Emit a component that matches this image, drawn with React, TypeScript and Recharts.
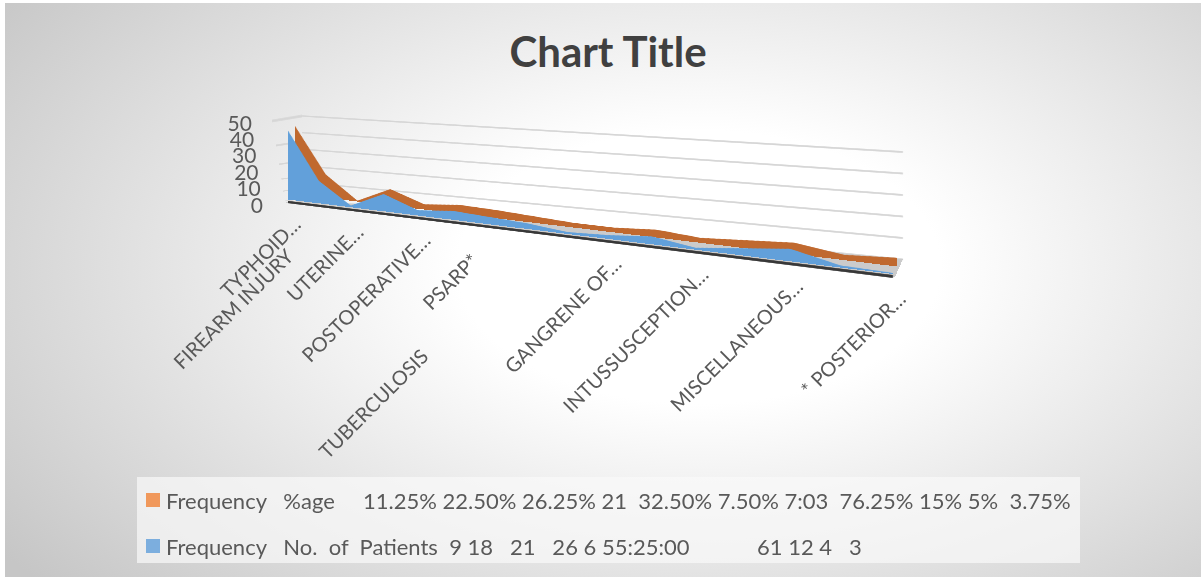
import { AreaChart, Area, XAxis, YAxis, CartesianGrid, Legend } from 'recharts'

// categories along the floor (blank ones carry no label in the sheet)
const CAUSES = [
  'TYPHOID…', 'FIREARM INJURY', 'UTERINE…', 'TUBERCULOSIS', 'POSTOPERATIVE…', 'PSARP*',
  '', '', '', 'GANGRENE OF…', '', 'INTUSSUSCEPTION…', '', 'MISCELLANEOUS…', '', '* POSTERIOR…',
]
const PATIENTS = [42, 13.5, 1, 10, 3, 5, 4, 3, 1, 2, 4, 1, 3.5, 6, 1, 0.5]
const PERCENT = [41.5, 14, 0.5, 9.5, 3, 5, 4.5, 3.5, 2.5, 2.5, 4, 2.5, 4, 5.5, 2.5, 4]
const Y_TICKS = [0, 10, 20, 30, 40, 50]

const NAME_PCT = 'Frequency   %age     11.25% 22.50% 26.25% 21  32.50% 7.50% 7:03  76.25% 15% 5%  3.75%'
const NAME_NUM = 'Frequency   No.  of  Patients  9 18   21   26 6 55:25:00            61 12 4   3'

const rows = CAUSES.map((cause, i) => ({ cause, pct: PERCENT[i], num: PATIENTS[i] }))

const W = 1204
const H = 577
// every chart uses the same flat plot box, each plane then gets warped onto its quad
const FLAT = { left: 100, top: 100, width: 600, height: 200 }
const MARGIN = { top: FLAT.top, left: FLAT.left, right: W - FLAT.left - FLAT.width, bottom: H - FLAT.top - FLAT.height }

type Pt = [number, number]
type Quad = [Pt, Pt, Pt, Pt] // top-left, top-right, bottom-right, bottom-left

const BLUE_PLANE: Quad = [[288, 117.5], [893, 165], [893, 274], [288, 199.5]]
const FRONT_EDGE: Quad = [[288, 120], [893, 167.5], [893, 276.5], [288, 202]]
const ORANGE_PLANE: Quad = [[295, 112], [897, 157.5], [897, 266.5], [295, 194]]
const BACK_WALL: Quad = [[302, 116], [903, 152], [903, 259.5], [302, 199]]
const SIDE_WALL: Quad = [[272, 121], [302, 116], [302, 199], [285, 201]]
const FLOOR: Quad = [[302, 199], [903, 259.5], [895, 277.5], [284, 203]]

const FONT = 'Lato, Calibri, "Open Sans", sans-serif'
const TEXT = '#595959'

function homography(q: Quad) {
  const [[x0, y0], [x1, y1], [x2, y2], [x3, y3]] = q
  const dx1 = x1 - x2, dx2 = x3 - x2, dx3 = x0 - x1 + x2 - x3
  const dy1 = y1 - y2, dy2 = y3 - y2, dy3 = y0 - y1 + y2 - y3
  const det = dx1 * dy2 - dx2 * dy1
  const g = (dx3 * dy2 - dx2 * dy3) / det
  const h = (dx1 * dy3 - dx3 * dy1) / det
  const a = x1 - x0 + g * x1, b = x3 - x0 + h * x3
  const d = y1 - y0 + g * y1, e = y3 - y0 + h * y3
  const { left: L, top: T, width: FW, height: FH } = FLAT
  return {
    m11: a / FW, m12: b / FH, m14: x0 - (a * L) / FW - (b * T) / FH,
    m21: d / FW, m22: e / FH, m24: y0 - (d * L) / FW - (e * T) / FH,
    m41: g / FW, m42: h / FH, m44: 1 - (g * L) / FW - (h * T) / FH,
  }
}

function project(q: Quad, x: number, y: number): Pt {
  const m = homography(q)
  const w = m.m41 * x + m.m42 * y + m.m44
  return [(m.m11 * x + m.m12 * y + m.m14) / w, (m.m21 * x + m.m22 * y + m.m24) / w]
}

function warp(q: Quad) {
  const m = homography(q)
  const f = (v: number) => v.toFixed(9)
  return `matrix3d(${f(m.m11)},${f(m.m21)},0,${f(m.m41)},${f(m.m12)},${f(m.m22)},0,${f(m.m42)},0,0,1,0,${f(m.m14)},${f(m.m24)},0,${f(m.m44)})`
}

function Plane({ quad, children }: { quad: Quad; children: React.ReactNode }) {
  return (
    <div style={{ position: 'absolute', left: 0, top: 0, width: W, height: H, transformOrigin: '0 0', transform: warp(quad) }}>
      {children}
    </div>
  )
}

// excel staggered a few of the long labels further down
const STAGGER: Record<number, Pt> = { 1: [-38, 28], 3: [32, 120], 5: [13, 16] }

function CauseTick({ x, index, payload }: any) {
  const [px, py] = project(FRONT_EDGE, x, FLAT.top + FLAT.height)
  const [sx, sy] = STAGGER[index] ?? [0, 0]
  return (
    <text
      transform={`translate(${px + 14 + sx},${py + 24 + sy}) rotate(-45)`}
      textAnchor="end"
      fontSize={20}
      fontFamily={FONT}
      fill={TEXT}
    >
      {payload.value}
    </text>
  )
}

// value labels follow the slanted front edge of the side wall
function ValueTick({ y, payload }: any) {
  const [px, py] = project(FRONT_EDGE, FLAT.left, y)
  const [, floorY] = project(FRONT_EDGE, FLAT.left, FLAT.top + FLAT.height)
  return (
    <text
      x={px - 25 - (floorY - py) * 0.135}
      y={py + 2}
      textAnchor="end"
      dominantBaseline="central"
      fontSize={21}
      fontFamily={FONT}
      fill={TEXT}
    >
      {payload.value}
    </text>
  )
}

function LegendBox({ payload }: any) {
  return (
    <div style={{ width: 943, height: 86, background: 'rgba(250,250,250,0.7)', fontFamily: FONT, fontSize: 22, color: TEXT, paddingLeft: 9, boxSizing: 'border-box' }}>
      {(payload ?? []).map((item: any) => (
        <div key={item.dataKey} style={{ height: 46, display: 'flex', alignItems: 'center', whiteSpace: 'pre' }}>
          <span style={{ width: 14, height: 14, background: item.color, marginRight: 6, flex: 'none' }} />
          <span>{item.value}</span>
        </div>
      ))}
    </div>
  )
}

// the walls get squashed to about 0.45 of the flat height, so strokes are drawn thick
function WallGrid() {
  return (
    <AreaChart width={W} height={H} data={rows} margin={MARGIN}>
      <CartesianGrid vertical={false} stroke="#d6d6d6" strokeWidth={3.5} />
      <XAxis dataKey="cause" hide />
      <YAxis hide domain={[0, 50]} ticks={Y_TICKS} />
      <Area dataKey="num" stroke="none" fill="none" isAnimationActive={false} />
    </AreaChart>
  )
}

export default function App() {
  return (
    <div style={{ position: 'absolute', left: 0, top: 0, width: W, height: H, background: '#fff', overflow: 'hidden' }}>
      <div
        style={{
          position: 'absolute', left: 5, top: 3, right: 3, bottom: 0,
          background: 'radial-gradient(ellipse 72% 85% at 58% 46%, #ffffff 0%, #ffffff 28%, #c6c6c6 100%)',
        }}
      />
      <div style={{ position: 'absolute', left: 6, top: 30, width: W, textAlign: 'center', fontFamily: FONT, fontWeight: 700, fontSize: 42, lineHeight: '42px', color: '#404040' }}>
        Chart Title
      </div>

      <Plane quad={BACK_WALL}>
        <WallGrid />
      </Plane>

      <Plane quad={SIDE_WALL}>
        <WallGrid />
      </Plane>

      <Plane quad={FLOOR}>
        <AreaChart width={W} height={H} data={rows} margin={MARGIN}>
          <CartesianGrid vertical={false} horizontal={false} fill="#cbcbcb" />
          <XAxis dataKey="cause" hide />
          <YAxis hide domain={[0, 50]} />
          <Area dataKey="num" stroke="none" fill="none" isAnimationActive={false} />
        </AreaChart>
      </Plane>

      <Plane quad={ORANGE_PLANE}>
        <AreaChart width={W} height={H} data={rows} margin={MARGIN}>
          <XAxis dataKey="cause" hide />
          <YAxis hide domain={[0, 50]} />
          <Area type="linear" dataKey="pct" stroke="none" fill="#c0692f" fillOpacity={1} isAnimationActive={false} />
        </AreaChart>
      </Plane>

      <Plane quad={BLUE_PLANE}>
        <AreaChart width={W} height={H} data={rows} margin={MARGIN}>
          <XAxis dataKey="cause" hide />
          <YAxis hide domain={[0, 50]} />
          <Area type="linear" dataKey="num" stroke="none" fill="#62a0da" fillOpacity={1} isAnimationActive={false} />
        </AreaChart>
      </Plane>

      {/* dark front edge of the floor, just in front of the blue series */}
      <Plane quad={FRONT_EDGE}>
        <AreaChart width={W} height={H} data={rows} margin={{ ...MARGIN, bottom: MARGIN.bottom - 1 }}>
          <XAxis dataKey="cause" height={1} tick={false} tickLine={false} axisLine={{ stroke: '#383838', strokeWidth: 5.5 }} />
          <YAxis hide domain={[0, 50]} />
          <Area dataKey="num" stroke="none" fill="none" isAnimationActive={false} />
        </AreaChart>
      </Plane>

      <div style={{ position: 'absolute', left: 0, top: 0 }}>
        <AreaChart width={W} height={H} data={rows} margin={{ ...MARGIN, left: FLAT.left - 60, bottom: MARGIN.bottom - 30 }}>
          <XAxis dataKey="cause" height={30} interval={0} axisLine={false} tickLine={false} tick={<CauseTick />} />
          <YAxis width={60} domain={[0, 50]} ticks={Y_TICKS} axisLine={false} tickLine={false} tick={<ValueTick />} />
          <Area dataKey="pct" name={NAME_PCT} stroke="#f0985b" strokeOpacity={0} fill="none" legendType="square" isAnimationActive={false} />
          <Area dataKey="num" name={NAME_NUM} stroke="#7caede" strokeOpacity={0} fill="none" legendType="square" isAnimationActive={false} />
          <Legend
            layout="horizontal"
            verticalAlign="middle"
            align="center"
            content={<LegendBox />}
            wrapperStyle={{ left: 137, top: 477, width: 943, height: 86 }}
          />
        </AreaChart>
      </div>
    </div>
  )
}
